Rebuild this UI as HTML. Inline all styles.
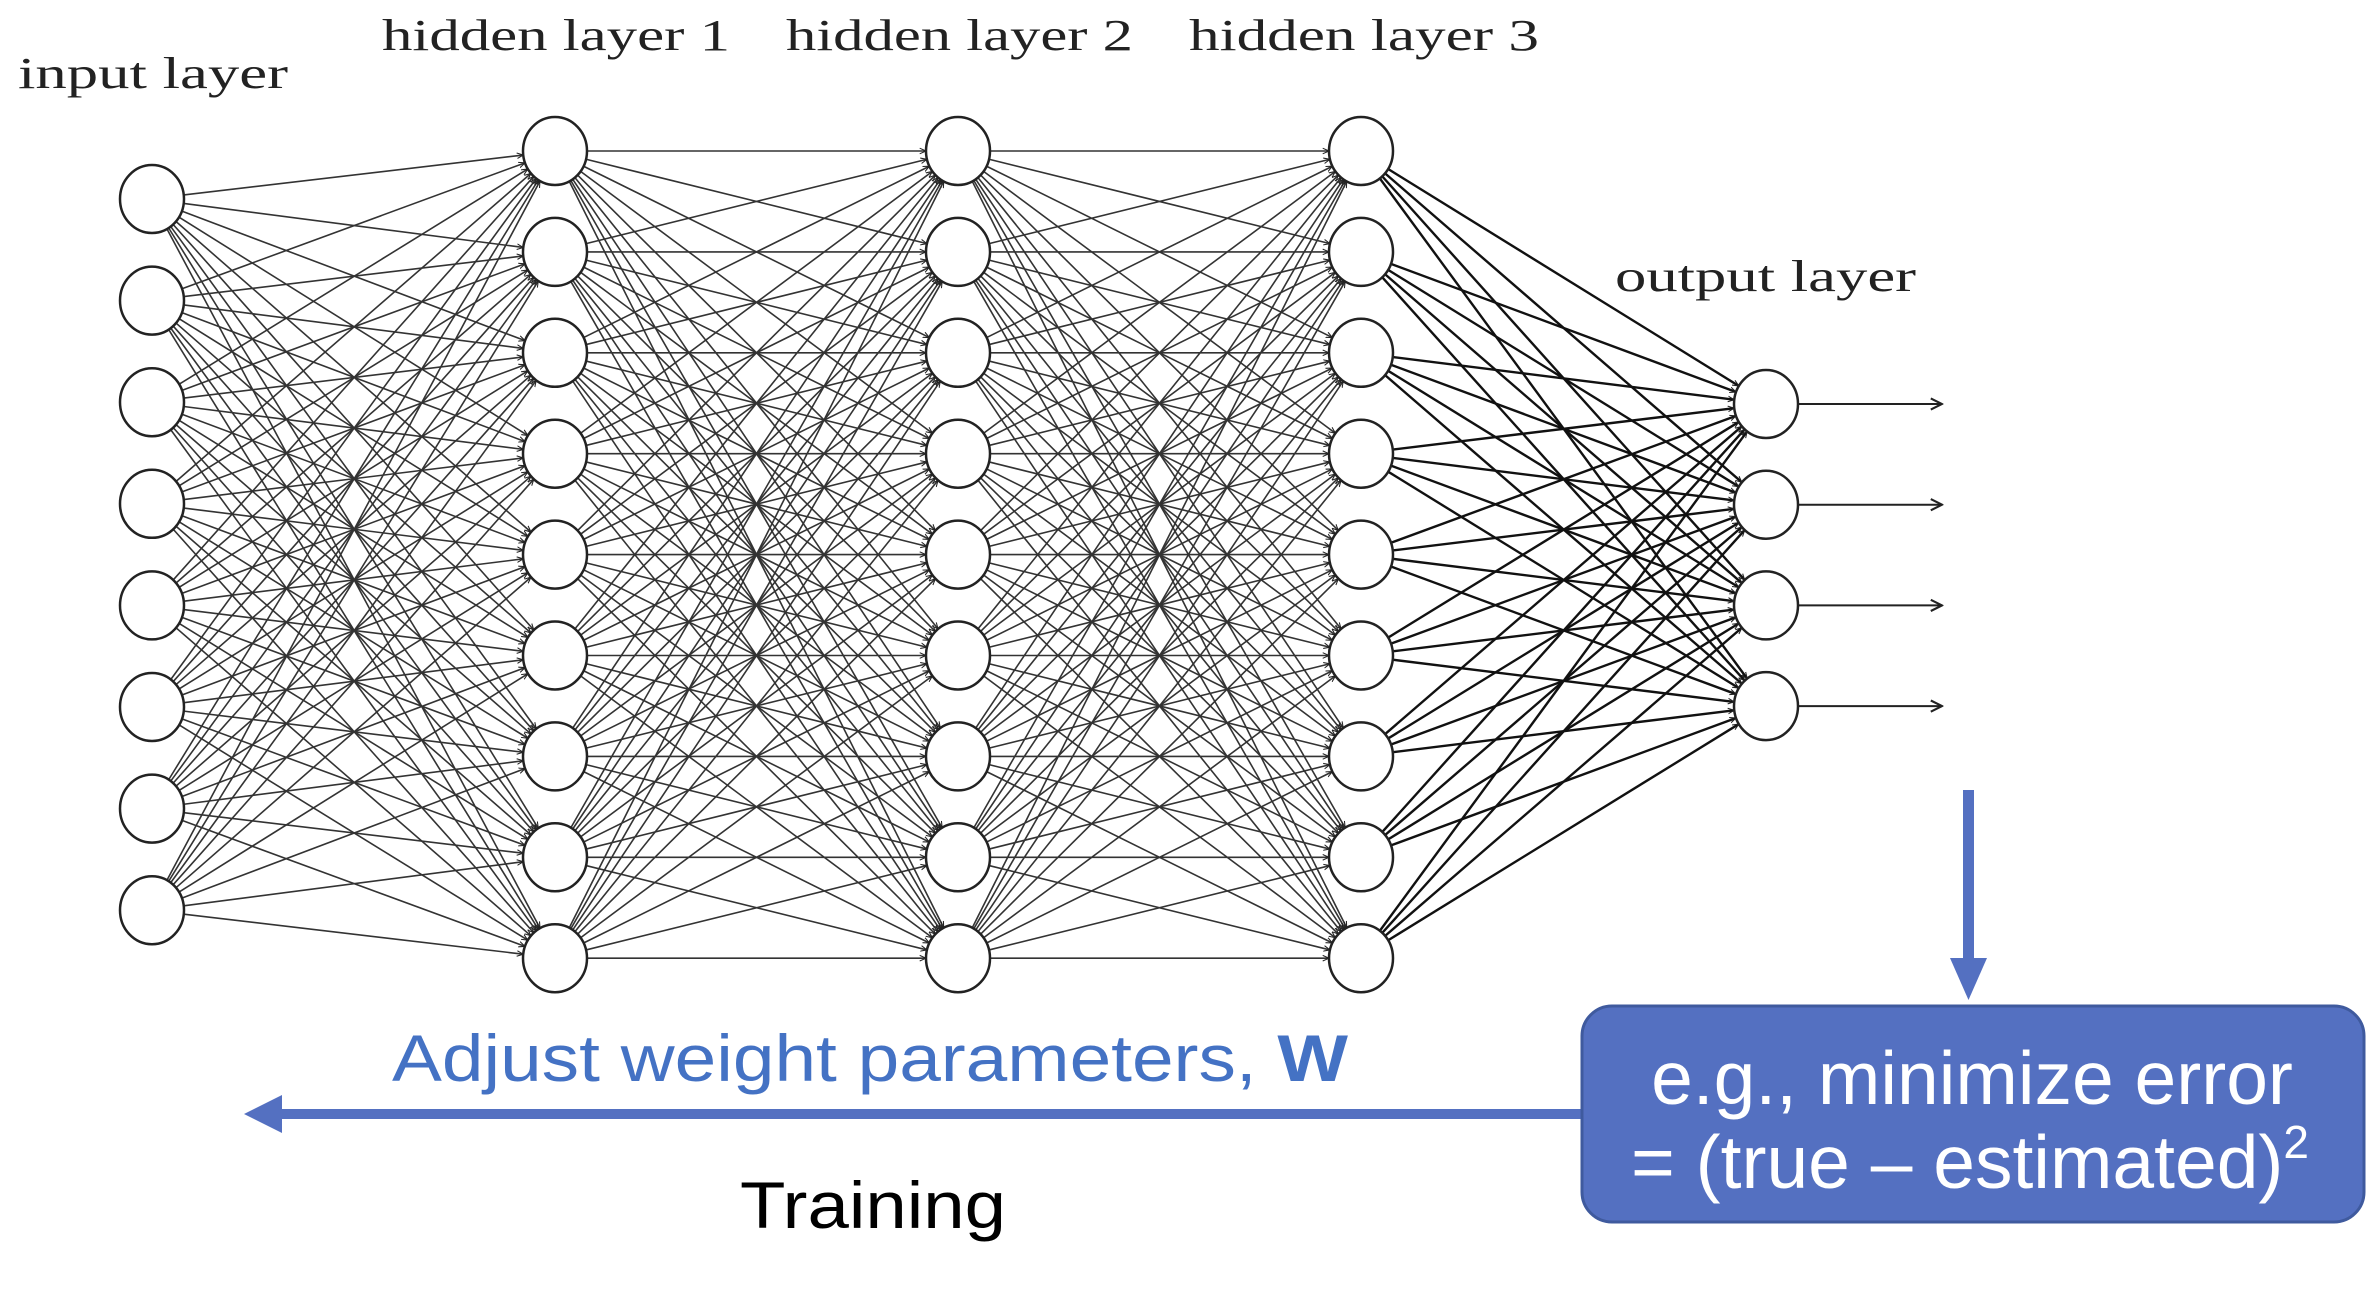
<!DOCTYPE html>
<html><head><meta charset="utf-8"><style>
html,body{margin:0;padding:0;background:#fff;}
svg{display:block;}
</style></head><body>
<svg id="s" width="2366" height="1291" xmlns="http://www.w3.org/2000/svg">
<defs>
<marker id="ah" viewBox="0 0 10 10" refX="9" refY="5" markerWidth="7" markerHeight="7" orient="auto" markerUnits="userSpaceOnUse">
<path d="M0,1 L9,5 L0,9" fill="none" stroke="#222" stroke-width="1.5"/>
</marker>
<marker id="ah2" viewBox="0 0 10 10" refX="9" refY="5" markerWidth="14" markerHeight="14" orient="auto" markerUnits="userSpaceOnUse">
<path d="M1,1 L9,5 L1,9" fill="none" stroke="#222" stroke-width="1.5"/>
</marker>
</defs>
<g id="edges"></g>
<g id="nodes"></g>
<g font-family="'Liberation Serif', serif" font-size="44" fill="#222">
<text x="18" y="88" textLength="270" lengthAdjust="spacingAndGlyphs">input layer</text>
<text x="382" y="50" textLength="348" lengthAdjust="spacingAndGlyphs">hidden layer 1</text>
<text x="786" y="50" textLength="347" lengthAdjust="spacingAndGlyphs">hidden layer 2</text>
<text x="1189" y="50" textLength="350" lengthAdjust="spacingAndGlyphs">hidden layer 3</text>
<text x="1615" y="291" textLength="301" lengthAdjust="spacingAndGlyphs">output layer</text>
</g>
<rect x="1963" y="790" width="11" height="170" fill="#5470c1"/>
<polygon points="1950,958 1987,958 1968.5,1000" fill="#5470c1"/>
<rect x="270" y="1109" width="1320" height="10" fill="#5470c1"/>
<polygon points="244,1114 282,1095 282,1133" fill="#5470c1"/>
<rect x="1582" y="1006" width="782" height="216" rx="30" ry="30" fill="#5470c1" stroke="#3f5a9e" stroke-width="3"/>
<g font-family="'Liberation Sans', sans-serif" fill="#fff" font-size="75" text-anchor="middle">
<text x="1972" y="1104">e.g., minimize error</text>
<text x="1970" y="1188">= (true – estimated)<tspan font-size="46" dy="-30">2</tspan></text>
</g>
<text x="392" y="1081" font-family="'Liberation Sans', sans-serif" font-size="66" fill="#4472c4" textLength="956" lengthAdjust="spacingAndGlyphs">Adjust weight parameters, <tspan font-weight="bold">W</tspan></text>
<text x="740" y="1228" font-family="'Liberation Sans', sans-serif" font-size="66" fill="#000" textLength="266" lengthAdjust="spacingAndGlyphs">Training</text>
</svg>
<script>
(function(){
var NS="http://www.w3.org/2000/svg";
var rx=32, ry=34;
function col(x,n,y0,dy){var a=[];for(var i=0;i<n;i++)a.push([x,y0+i*dy]);return a;}
var L=[col(152,8,199,101.6),col(555,9,151,100.9),col(958,9,151,100.9),col(1361,9,151,100.9),col(1766,4,404,100.7)];
var E=document.getElementById("edges"),N=document.getElementById("nodes");
for(var l=0;l<4;l++){
 var A=L[l],B=L[l+1];
 for(var i=0;i<A.length;i++)for(var j=0;j<B.length;j++){
  var p=A[i],q=B[j];
  var dx=q[0]-p[0],dy=q[1]-p[1],d=Math.sqrt(dx*dx+dy*dy);
  var ln=document.createElementNS(NS,"line");
  ln.setAttribute("x1",p[0]+rx*dx/d);ln.setAttribute("y1",p[1]+ry*dy/d);
  ln.setAttribute("x2",q[0]-rx*dx/d);ln.setAttribute("y2",q[1]-ry*dy/d);
  ln.setAttribute("stroke",l==3?"#111":"#333");
  ln.setAttribute("stroke-width",l==3?"2.4":"1.6");
  ln.setAttribute("marker-end","url(#ah)");
  E.appendChild(ln);
 }
}
L[4].forEach(function(p){
 var ln=document.createElementNS(NS,"line");
 ln.setAttribute("x1",p[0]+rx);ln.setAttribute("y1",p[1]);
 ln.setAttribute("x2",1942);ln.setAttribute("y2",p[1]);
 ln.setAttribute("stroke","#222");ln.setAttribute("stroke-width","2");
 ln.setAttribute("marker-end","url(#ah2)");
 E.appendChild(ln);
});
L.forEach(function(c){c.forEach(function(p){
 var e=document.createElementNS(NS,"ellipse");
 e.setAttribute("cx",p[0]);e.setAttribute("cy",p[1]);e.setAttribute("rx",rx);e.setAttribute("ry",ry);
 e.setAttribute("fill","#fff");e.setAttribute("stroke","#222");e.setAttribute("stroke-width","2.5");
 N.appendChild(e);
});});
})();
</script>
</body></html>
